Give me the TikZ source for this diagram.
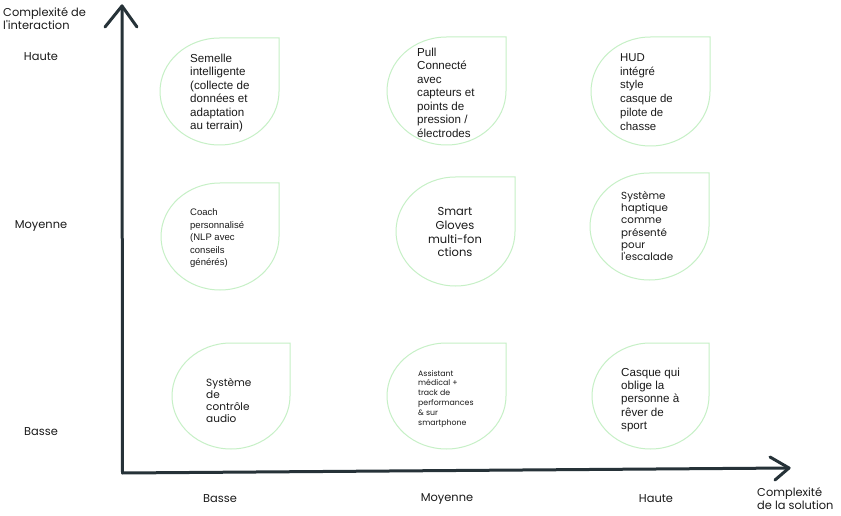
\documentclass[tikz,border=0pt]{standalone}
\usepackage{fontspec}
\setmainfont{Liberation Sans}
\newfontfamily\pop{Poppins}
\definecolor{axiscol}{HTML}{263238}
\definecolor{dropcol}{HTML}{C6F0C6}
\definecolor{txtcol}{HTML}{1A1A1A}
\newcommand\drop[4]{%
  \pgfmathsetmacro\drx{(#3-#1)/2}%
  \pgfmathsetmacro\dry{(#4-#2)/2}%
  \draw[dropline] ({#3},{515-#2}) -- ({#3},{515-(#2+#4)/2})
    arc[start angle=0,end angle=-270,x radius=\drx pt,y radius=\dry pt] -- cycle;}
\begin{document}
\begin{tikzpicture}[x=1pt,y=1pt,
  dropline/.style={draw=dropcol,line width=1pt},
  axisline/.style={draw=axiscol,line width=3pt,line cap=round,line join=round},
  poplab/.style={font=\pop\fontsize{11.4}{13.4}\selectfont,text=txtcol,inner sep=0pt},
  ltxt/.style={anchor=north west,align=left,inner sep=0pt,text=txtcol},
  arialA/.style={ltxt,font=\fontsize{11.6}{13.5}\selectfont},
  arialB/.style={ltxt,font=\fontsize{9.5}{12.5}\selectfont},
  popA/.style={ltxt,font=\pop\fontsize{10.3}{12.3}\selectfont},
  popB/.style={ltxt,font=\pop\fontsize{7.8}{9.8}\selectfont}]
\useasboundingbox[fill=white] (0,0) rectangle (841,515);
% drops
\drop{160}{38}{279}{145}
\drop{387}{37}{506}{145}
\drop{591}{37}{710}{146}
\drop{161}{183}{279}{290}
\drop{396}{177}{515}{286}
\drop{590}{173}{709}{280}
\drop{172}{343}{290}{449}
\drop{387}{343}{506}{449}
\drop{592}{343}{709}{449}
% axes
\coordinate (O) at (122.5,42);
\coordinate (ytip) at (122,509);
\coordinate (ya1) at (105,488);
\coordinate (ya2) at (137,488);
\coordinate (xtip) at (789,47);
\coordinate (xa1) at (770,58);
\coordinate (xa2) at (775,35);
\draw[axisline] (ytip) -- (O) -- (xtip);
\draw[axisline] (ya1) -- (ytip) -- (ya2);
\draw[axisline] (xa1) -- (xtip) -- (xa2);
% axis labels
\node[poplab,anchor=north west,align=left] (ylab) at (3,508) {Complexité de\\l'interaction};
\node[poplab] (yh) at (41,458) {Haute};
\node[poplab] (ym) at (41,289) {Moyenne};
\node[poplab] (yb) at (41,83) {Basse};
\node[poplab] (xb) at (220,16) {Basse};
\node[poplab] (xm) at (447,16) {Moyenne};
\node[poplab] (xh) at (656,16) {Haute};
\node[poplab,anchor=north west,align=left] (xlab) at (757,28) {Complexité\\de la solution};
% drop texts
\node[arialA] (t1) at (190,461.5) {Semelle\\intelligente\\(collecte de\\données et\\adaptation\\au terrain)};
\node[arialA] (t2) at (417,467.5) {Pull\\Connecté\\avec\\capteurs et\\points de\\pression /\\électrodes};
\node[arialA,font=\fontsize{11.4}{13.7}\selectfont] (t3) at (620,461.5) {HUD\\intégré\\style\\casque de\\pilote de\\chasse};
\node[arialB] (t4) at (190,306.5) {Coach\\personnalisé\\(NLP avec\\conseils\\générés)};
\node[inner sep=0pt,anchor=north,align=center,text=txtcol,font=\pop\fontsize{11.5}{13.7}\selectfont] (t5) at (455,307.5) {Smart\\Gloves\\multi-fon\\ctions};
\node[popA] (t6) at (621,324) {Système\\haptique\\comme\\présenté\\pour\\l'escalade};
\node[popA,font=\pop\fontsize{10.5}{12}\selectfont] (t7) at (206,137) {Système\\de\\contrôle\\audio};
\node[popB] (t8) at (418,145) {Assistant\\médical +\\track de\\performances\\\& sur\\smartphone};
\node[arialA,font=\fontsize{11.6}{13.3}\selectfont] (t9) at (621,147.5) {Casque qui\\oblige la\\personne à\\rêver de\\sport};
\end{tikzpicture}
\end{document}
